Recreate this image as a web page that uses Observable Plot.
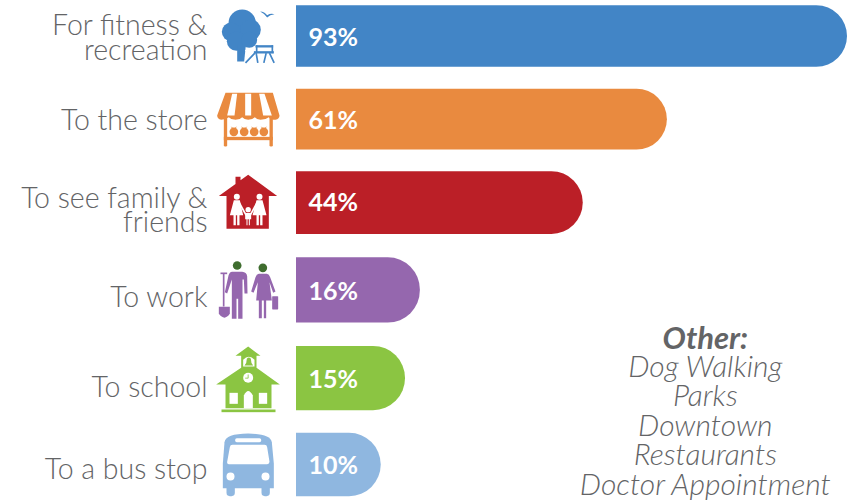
<!DOCTYPE html>
<html>
<head>
<meta charset="utf-8">
<style>html,body{margin:0;padding:0;background:#fff}svg{display:block}</style>
<script src="https://cdn.jsdelivr.net/npm/d3@7"></script>
<script src="https://cdn.jsdelivr.net/npm/@observablehq/plot@0.6"></script>
</head>
<body>
<div id="chart"></div>
<script>
// Data
const categories = ["For fitness &\nrecreation","To the store","To see family &\nfriends","To work","To school","To a bus stop"];
const percentLabels = ["93%","61%","44%","16%","15%","10%"];
// drawn bar lengths (the artwork's bars are not strictly proportional to the printed labels)
const barLengths = [93, 62.6, 48.4, 20.9, 18.4, 14.3];
const barColors = ["#4285c6","#e98a3f","#bb1f27","#9567ae","#8bc542","#8fb7e0"];
const otherTitle = "Other:";
const otherItems = ["Dog Walking","Parks","Downtown","Restaurants","Doctor Appointment"];

const GRAY = "#636466";
const FONT = "Lato, 'Open Sans', sans-serif";
const rows = categories.map((c,i)=>({c,i,len:barLengths[i],pct:percentLabels[i]}));
const labelShift = [0.04,0.025,0.115,0.1,0.12,0.07];

// Icons (decorative artwork)
const icons = [
`<svg xmlns="http://www.w3.org/2000/svg" viewBox="0 3 300 210"><g fill="#4285c6"><circle cx="125" cy="68" r="41"/><circle cx="92" cy="94" r="28"/><circle cx="150" cy="88" r="31"/><circle cx="108" cy="122" r="29"/><circle cx="146" cy="118" r="24"/><path d="M110 135H136L131 183H110Z"/><path d="M179 33Q192 34 200 44Q210 38 222 41Q208 42 200 51Q193 40 179 33Z"/><rect x="165" y="134" width="53" height="7"/><rect x="160" y="152" width="60" height="7"/><rect x="166" y="134" width="5" height="24"/><rect x="213" y="134" width="5" height="24"/></g><path stroke="#fff" stroke-width="3" fill="none" d="M134 150L160 150L134 185"/><path stroke="#4285c6" stroke-width="5" fill="none" d="M163 158L135 187M167 158L172 187M197 158L190 187M207 158L221 187"/></svg>`,
`<svg xmlns="http://www.w3.org/2000/svg" viewBox="0 253.5 300 210"><g fill="#e98a3f"><path d="M75 277H217L237 345Q237 355 225 358Q210 358 205 350Q195 358 180 358Q170 358 163 350Q155 358 143 358Q133 358 125 350Q118 358 105 358Q92 358 85 350Q75 358 62 358Q50 355 50 345Z"/><rect x="70" y="345" width="10" height="93" rx="4"/><rect x="207" y="345" width="10" height="93" rx="4"/><rect x="70" y="409" width="147" height="10"/><circle cx="100" cy="394" r="13"/><circle cx="131" cy="394" r="13"/><circle cx="161" cy="394" r="13"/><circle cx="190" cy="394" r="13"/><path d="M90 377L100 384L110 377L100 390ZM121 377L131 384L141 377L131 390ZM151 377L161 384L171 377L161 390ZM180 377L190 384L200 377L190 390Z"/></g><g fill="#fff"><path d="M95 280H110L102 345H80Z"/><path d="M134 280H152L152 345H134Z"/><path d="M176 280H192L214 345H188Z"/></g></svg>`,
`<svg xmlns="http://www.w3.org/2000/svg" viewBox="0 4.5 300 210"><path fill="#bb1f27" d="M55 92L105 56V34H120V45L143 28L230 92H205V190H78V92Z"/><g fill="#fff"><circle cx="109" cy="94" r="9"/><circle cx="177" cy="94" r="9"/><circle cx="143" cy="133" r="8"/><path d="M100 105H118L128 150H117V180H110V150H106V180H99V150H88Z"/><path d="M168 105H186L198 150H186V180H179V150H175V180H168V150H156Z"/><path d="M134 143H152V162H148V180H145V162H141V180H138V162H134Z"/><path d="M116 106L139 148L135 151L113 112Z"/><path d="M170 106L147 148L151 151L173 112Z"/></g></svg>`,
`<svg xmlns="http://www.w3.org/2000/svg" viewBox="0 270 300 210"><circle cx="110" cy="300" r="13" fill="#3f6d2f"/><circle cx="187" cy="307" r="13" fill="#3f6d2f"/><g fill="#9567ae"><path d="M95 319H125Q138 320 140 332L141 384H132L130 342H126V460H113V400H108V460H94V342L80 384L73 380L84 330Q87 320 95 319Z"/><path d="M175 325H199Q206 326 209 335L225 378L218 382L207 350L214 405H197V458H190V405H184V458H175V405H167L172 350L159 382L152 378L165 335Q168 326 175 325Z"/><rect x="215" y="392" width="18" height="40" rx="2"/><rect x="67" y="323" width="5" height="100"/><rect x="60" y="321" width="20" height="5"/><path d="M55 424H88V445Q72 468 55 445Z"/></g></svg>`,
`<svg xmlns="http://www.w3.org/2000/svg" viewBox="0 10.5 300 210"><g fill="#8bc542"><path d="M143 18L180 46H168V82L238 132H213V203H75V132H47L122 82V46H105Z"/><rect x="63" y="207" width="162" height="8"/></g><g fill="#fff"><path d="M128 78V58Q145 40 162 58V78Z"/><rect x="87" y="157" width="25" height="33"/><rect x="175" y="157" width="25" height="33"/><path d="M130 203V165Q143 138 157 165V203Z"/><circle cx="143" cy="112" r="15"/></g><path fill="#8bc542" d="M132 75Q139 68 139 55Q145 47 151 55Q151 68 158 75Z"/><path stroke="#8bc542" stroke-width="2.5" fill="none" d="M143 102V113H134"/></svg>`,
`<svg xmlns="http://www.w3.org/2000/svg" viewBox="0 268.5 300 210"><g fill="#8fb7e0"><path d="M67 443V370L72 305Q75 280 143 279Q210 280 214 305L220 370V443Z"/><rect x="78" y="430" width="25" height="37" rx="10"/><rect x="183" y="430" width="25" height="37" rx="10"/></g><g fill="#fff"><rect x="104" y="293" width="78" height="12" rx="5"/><path d="M88 320Q89 313 96 313H192Q199 313 200 320L207 364Q207 371 200 371H85Q79 371 80 364Z"/><circle cx="90" cy="408" r="12"/><circle cx="195" cy="408" r="12"/></g></svg>`
].map(s => "data:image/svg+xml;utf8," + encodeURIComponent(s));

const chart = Plot.plot({
  width: 857, height: 501,
  marginTop: 0, marginRight: 0, marginBottom: 0, marginLeft: 0,
  style: {fontFamily: FONT, background: "#fff"},
  x: {type: "linear", domain: [0, 93], range: [296, 847], axis: null},
  y: {type: "linear", domain: [0,1,2,3,4,5], range: [36,119.5,201.3,290,378.5,464.5], axis: null},
  color: {domain: categories, range: barColors},
  marks: [
    Plot.rect(rows, {x1: 0, x2: "len", y1: d=>d.i-0.368, y2: d=>d.i+0.368, fill: "c", rx2: 32}),
    Plot.image(rows, {x: ()=>0, dx: -46, y: "i", src: (d,i)=>icons[i], width: 100, height: 70}),
    Plot.text(rows, {x: ()=>0, dx: -89, y: (d,i)=>i+labelShift[i], text: "c", textAnchor: "end", fill: GRAY, fontSize: 28.5, lineHeight: 0.85, fontWeight: 300}),
    Plot.text(rows, {x: ()=>0, dx: 12, y: d=>d.i+0.015, text: "pct", textAnchor: "start", fill: "#fff", fontSize: 25, fontWeight: 700}),
    Plot.text([otherTitle], {x: ()=>69, frameAnchor: "bottom", lineAnchor: "bottom", dy: -153, text: d=>d, textAnchor: "middle", fill: GRAY, fontSize: 31, fontWeight: 700, fontStyle: "italic"}),
    Plot.text([otherItems.join("\n")], {x: ()=>69, frameAnchor: "bottom", lineAnchor: "bottom", dy: -7, text: d=>d, textAnchor: "middle", fill: GRAY, fontSize: 30, lineHeight: 0.983, fontWeight: 300, fontStyle: "italic"})
  ]
});
document.getElementById("chart").append(chart);
</script>
</body>
</html>
